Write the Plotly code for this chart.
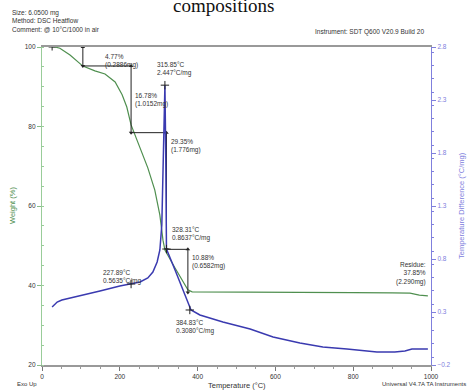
import plotly.graph_objects as go

# ---------------- data ----------------
tga_T = [26, 33, 46, 72, 105, 136, 162, 188, 206, 218, 229, 252, 272, 290, 303, 311, 316,
         342, 368, 375, 386, 500, 600, 700, 800, 900, 946, 970, 992]
tga_W = [100, 100, 99.7, 98, 95.2, 94, 93.2, 91.2, 88, 84.9, 80.4, 74.6, 69.6, 64, 57.7, 51.4, 48.9,
         44.4, 40.1, 38.9, 38.4, 38.3, 38.3, 38.25, 38.2, 38.15, 38.1, 37.6, 37.4]

dsc_T = [26, 39, 51, 98, 149, 200, 229, 252, 272, 285, 296, 303, 308, 311, 314, 316, 318, 320,
         342, 368, 383, 406, 465, 535, 594, 663, 722, 784, 817, 861, 907, 933, 951, 992]
dsc_V = [0.347, 0.394, 0.413, 0.451, 0.498, 0.545, 0.564, 0.583, 0.621, 0.677, 0.772, 0.885, 1.12,
         1.545, 2.11, 2.44, 1.83, 0.894, 0.696, 0.46, 0.319, 0.272, 0.206, 0.14, 0.064, 0.008,
         -0.03, -0.049, -0.058, -0.077, -0.077, -0.068, -0.049, -0.049]

step_T = [105, 229, 320, 375]          # temperatures of step markers
step_loss = [4.77, 16.78, 29.35, 10.88]  # % weight losses
step_mass = ["0.2886", "1.0152", "1.776", "0.6582"]
step_end_T = [229, 320, 375, 375]

peak_pts_T = [227.89, 315.85, 328.31, 384.83]
peak_pts_V = [0.5635, 2.447, 0.8637, 0.3080]
peak_mark_T = [229, 316, 320, 380]
peak_mark_V = [0.564, 2.44, 0.894, 0.319]

x_ticks = [0, 200, 400, 600, 800, 1000]
w_ticks = [20, 40, 60, 80, 100]
v_ticks = [-0.2, 0.3, 0.8, 1.3, 1.8, 2.3, 2.8]

GREEN = "#4f8f4f"
BLUE = "#3a3ab0"
AXBLUE = "#8080dd"
TXT = "#333333"

fig = go.Figure()
fig.add_trace(go.Scatter(x=tga_T, y=tga_W, mode="lines", line=dict(color=GREEN, width=1.2),
                         yaxis="y", showlegend=False, hoverinfo="skip"))
fig.add_trace(go.Scatter(x=dsc_T, y=dsc_V, mode="lines", line=dict(color=BLUE, width=1.5),
                         yaxis="y2", showlegend=False, hoverinfo="skip"))

# step markers
levels = [100]
for s in step_loss:
    levels.append(round(levels[-1] - s, 2))
for i in range(4):
    fig.add_trace(go.Scatter(x=[step_T[i], step_T[i]], y=[levels[i], levels[i + 1]], mode="lines+markers",
                             line=dict(color="#222", width=1),
                             marker=dict(symbol=["triangle-up", "triangle-down"], size=4, color="#222"),
                             yaxis="y", showlegend=False, hoverinfo="skip"))
    if step_end_T[i] != step_T[i]:
        fig.add_trace(go.Scatter(x=[step_T[i], step_end_T[i]], y=[levels[i + 1], levels[i + 1]],
                                 mode="lines", line=dict(color="#222", width=1),
                                 yaxis="y", showlegend=False, hoverinfo="skip"))
fig.add_trace(go.Scatter(x=[tga_T[0]], y=[tga_W[0]], mode="markers",
                         marker=dict(symbol="cross-thin", size=5, line=dict(color="#222", width=1)),
                         yaxis="y", showlegend=False, hoverinfo="skip"))
fig.add_trace(go.Scatter(x=peak_mark_T, y=peak_mark_V, mode="markers",
                         marker=dict(symbol="cross-thin", size=6, line=dict(color="#222", width=1)),
                         yaxis="y2", showlegend=False, hoverinfo="skip"))

ann = []
fs = 6.5
def a(text, x, y, yref="y", xanchor="left", xref="x", size=fs, color=TXT, **kw):
    ann.append(dict(text=text, x=x, y=y, xref=xref, yref=yref, xanchor=xanchor, yanchor="middle",
                    showarrow=False, align=xanchor if xanchor in ("left", "right") else "center",
                    font=dict(size=size, color=color, family="Liberation Sans"), **kw))

# TGA labels
a(f"{step_loss[0]:.2f}%<br>({step_mass[0]}mg)", 157, 96.6)
a(f"{step_loss[1]:.2f}%<br>({step_mass[1]}mg)", 234, 86.7)
a(f"{step_loss[2]:.2f}%<br>({step_mass[2]}mg)", 326, 75.1)
a(f"{step_loss[3]:.2f}%<br>({step_mass[3]}mg)", 380, 45.9)
a("Residue:<br>37.85%<br>(2.290mg)", 992, 43.1, xanchor="right")
# DSC labels
a(f"{peak_pts_T[1]:.2f}°C<br>{peak_pts_V[1]:.3f}°C/mg", 290, 2.59, yref="y2")
a(f"{peak_pts_T[2]:.2f}°C<br>{peak_pts_V[2]:.4f}°C/mg", 329, 1.036, yref="y2")
a(f"{peak_pts_T[0]:.2f}°C<br>{peak_pts_V[0]:.4f}°C/mg", 152, 0.63, yref="y2")
a(f"{peak_pts_T[3]:.2f}°C<br>{peak_pts_V[3]:.4f}°C/mg", 339, 0.158, yref="y2")

# header texts (paper coords: x 0->42px, 1->431px ; y 1->47px, 0->365px)
def px(xp):
    return (xp - 42) / 389
def py(yp):
    return (365 - yp) / 318
a("Size: 6.0500 mg<br>Method: DSC Heatflow<br>Comment: @ 10°C/1000 in air", px(10), py(21),
  xref="paper", yref="paper", size=6.5)
a("Instrument: SDT Q600 V20.9 Build 20", px(426), py(32), xref="paper", yref="paper", xanchor="right", size=6.5)
a("Exo Up", px(15), py(384), xref="paper", yref="paper", size=6)
a("Universal V4.7A TA Instruments", px(468), py(384), xref="paper", yref="paper", xanchor="right", size=6)
a("Temperature (°C)", 0.5, py(385), xref="paper", yref="paper", xanchor="center", size=7.5)
a("Weight (%)", px(12), 0.5, xref="paper", yref="paper", xanchor="center", size=7.5, color=GREEN, textangle=-90)
a("Temperature Difference (°C/mg)", px(461), 0.5, xref="paper", yref="paper", xanchor="center",
  size=7.5, color=AXBLUE, textangle=-90)
ann.append(dict(text="compositions", x=px(223), y=py(6), xref="paper", yref="paper", xanchor="center",
                yanchor="middle", showarrow=False,
                font=dict(size=19, color="#111", family="Liberation Serif")))

fig.update_layout(
    width=470, height=392, margin=dict(l=42, r=39, t=47, b=27),
    paper_bgcolor="white", plot_bgcolor="white",
    annotations=ann,
    xaxis=dict(range=[0, 1000], tickvals=x_ticks, ticks="outside", ticklen=4, tickcolor="#777",
               showline=True, linecolor="#999", linewidth=1.5, mirror=True, showgrid=False, zeroline=False,
               tickfont=dict(size=6.5, color=TXT, family="Liberation Sans"),
               minor=dict(ticks="outside", ticklen=2, dtick=50, tickcolor="#999")),
    yaxis=dict(range=[20, 100], tickvals=w_ticks, ticks="outside", ticklen=4, tickcolor="#8b8",
               showline=True, linecolor="#9c9", linewidth=1.2, showgrid=False, zeroline=False,
               tickfont=dict(size=6.5, color=TXT, family="Liberation Sans"),
               minor=dict(ticks="inside", ticklen=2, dtick=5, tickcolor="#9c9")),
    yaxis2=dict(range=[-0.2, 2.8], tickvals=v_ticks, ticks="outside", ticklen=4, tickcolor=AXBLUE,
                overlaying="y", side="right", showline=True, linecolor=AXBLUE, linewidth=1.2,
                showgrid=False, zeroline=False,
                tickfont=dict(size=6.5, color=AXBLUE, family="Liberation Sans"),
                minor=dict(ticks="outside", ticklen=2, dtick=0.125, tickcolor=AXBLUE)),
)

fig.write_html("out.html")
